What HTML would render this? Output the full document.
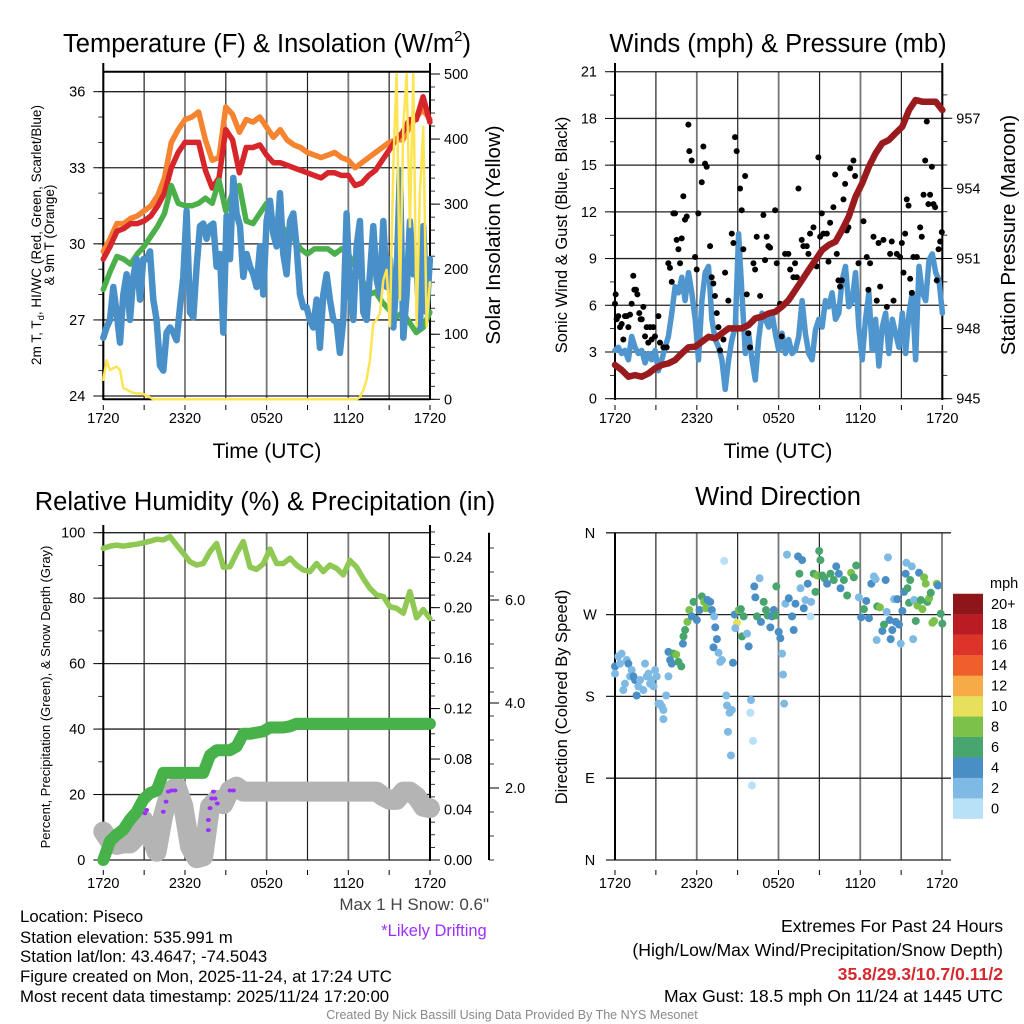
<!DOCTYPE html>
<html><head><meta charset="utf-8">
<style>
html,body{margin:0;padding:0;background:#fff;}
svg{display:block;font-family:"Liberation Sans",Arial,sans-serif;}
</style></head>
<body>
<svg id="fig" width="1024" height="1024" viewBox="0 0 1024 1024" xmlns="http://www.w3.org/2000/svg">
<rect width="1024" height="1024" fill="#fff"/>
<g id="p1"></g>
<g id="p2"></g>
<g id="p3"></g>
<g id="p4"></g>

<text x="267" y="52" font-size="25.5" text-anchor="middle">Temperature (F) &amp; Insolation (W/m<tspan font-size="15" dy="-11">2</tspan><tspan dy="11">)</tspan></text>
<text x="778" y="52" font-size="25.5" text-anchor="middle">Winds (mph) &amp; Pressure (mb)</text>
<text x="265" y="510" font-size="25.5" text-anchor="middle">Relative Humidity (%) &amp; Precipitation (in)</text>
<text x="778" y="505" font-size="25.5" text-anchor="middle">Wind Direction</text>

<text transform="translate(41,235) rotate(-90)" font-size="13.5" text-anchor="middle">2m T, T<tspan font-size="9.5" dy="3">d</tspan><tspan dy="-3">, HI/WC (Red, Green, Scarlet/Blue)</tspan></text>
<text transform="translate(54,235) rotate(-90)" font-size="13.5" text-anchor="middle">&amp; 9m T (Orange)</text>
<text transform="translate(500,235) rotate(-90)" font-size="20.5" text-anchor="middle">Solar Insolation (Yellow)</text>
<text x="267" y="458" font-size="21" text-anchor="middle">Time (UTC)</text>
<text transform="translate(567,235) rotate(-90)" font-size="16.5" text-anchor="middle">Sonic Wind &amp; Gust (Blue, Black)</text>
<text transform="translate(1015,235) rotate(-90)" font-size="20.5" text-anchor="middle">Station Pressure (Maroon)</text>
<text x="778" y="458" font-size="21" text-anchor="middle">Time (UTC)</text>
<text transform="translate(50,697) rotate(-90)" font-size="13" text-anchor="middle">Percent, Precipitation (Green), &amp; Snow Depth (Gray)</text>
<text transform="translate(567,697) rotate(-90)" font-size="16.5" text-anchor="middle">Direction (Colored By Speed)</text>

<text x="489" y="910" font-size="17" fill="#444" text-anchor="end">Max 1 H Snow: 0.6"</text>
<text x="434" y="936" font-size="16.5" fill="#9b30ff" text-anchor="middle">*Likely Drifting</text>
<g font-size="16.8">
<text x="20" y="922">Location: Piseco</text>
<text x="20" y="943">Station elevation: 535.991 m</text>
<text x="20" y="962">Station lat/lon: 43.4647; -74.5043</text>
<text x="20" y="982">Figure created on Mon, 2025-11-24, at 17:24 UTC</text>
<text x="20" y="1002">Most recent data timestamp: 2025/11/24 17:20:00</text>
</g>
<g font-size="17.6" text-anchor="end">
<text x="1003" y="932">Extremes For Past 24 Hours</text>
<text x="1003" y="956">(High/Low/Max Wind/Precipitation/Snow Depth)</text>
<text x="1003" y="980" fill="#d42a2f" font-weight="bold">35.8/29.3/10.7/0.11/2</text>
<text x="1003" y="1002">Max Gust: 18.5 mph On 11/24 at 1445 UTC</text>
</g>
<text x="512" y="1019" font-size="12.5" fill="#888" text-anchor="middle">Created By Nick Bassill Using Data Provided By The NYS Mesonet</text>
</svg>
<script>
// ---------- DATA ----------
const timeLabels = ["1720","2320","0520","1120","1720"];
// Panel 1 (49 pts, every 0.5 h)
const temp9m = [29.7,30.2,30.8,30.8,31.0,31.1,31.3,31.5,31.9,32.6,34.0,34.5,34.9,35.0,35.2,34.1,33.3,33.4,35.4,35.1,34.4,34.9,34.8,35.0,34.6,34.2,34.5,34.1,33.9,33.8,33.6,33.5,33.4,33.5,33.6,33.4,33.3,33.0,33.2,33.4,33.6,33.8,34.0,34.1,34.1,34.6,35.0,35.3,34.9];
const temp2m = [29.4,29.9,30.5,30.6,30.8,30.8,30.9,31.1,31.5,32.0,33.0,33.6,34.0,34.0,34.0,32.9,32.2,32.6,34.5,34.1,32.8,33.8,33.8,33.9,33.5,33.2,33.2,33.1,33.0,32.9,32.8,32.7,32.6,32.8,32.8,32.7,32.7,32.3,32.4,32.7,32.9,33.3,33.7,34.1,34.4,34.9,34.9,35.8,34.8];
const dewpt = [28.2,28.9,29.5,29.4,29.2,29.6,29.9,30.3,30.7,31.2,32.3,31.6,31.5,31.5,31.6,31.8,31.6,32.5,31.3,32.0,32.3,30.9,30.8,31.2,31.6,30.7,30.8,30.4,30.2,29.8,29.6,29.8,29.8,29.8,29.6,29.8,29.6,29.1,28.6,28.0,28.1,27.7,27.4,27.1,27.3,26.9,26.5,26.7,27.3];
// wind chill (99 pts, every 24/98 h)
const windChill = [26.3,26.7,27.0,28.3,27.3,26.1,28.0,28.8,27.0,28.7,29.4,27.8,29.4,29.4,29.7,27.8,27.0,25.2,25.0,26.5,26.7,26.5,26.2,27.5,28.7,31.3,27.3,27.1,29.1,30.7,30.8,30.2,30.7,30.8,29.1,29.6,26.5,31.1,29.4,32.6,31.2,30.7,28.7,29.6,29.1,28.8,28.3,29.9,28.0,30.9,31.7,30.4,29.9,32.0,29.6,28.8,30.9,31.2,29.9,28.0,27.5,27.5,27.0,26.7,27.8,25.9,28.0,28.8,27.8,27.0,26.9,25.7,27.0,31.2,28.0,27.0,29.9,30.9,27.3,27.0,28.8,30.7,28.6,28.0,30.9,28.3,29.4,26.7,28.7,32.9,26.3,28.0,30.9,28.8,29.1,26.7,30.7,27.3,29.4];
const solar = [30,60,45,48,50,45,17,15,12,10,9,9,8,5,3,
0,0,0,0,0,0,0,0,0,0,0,0,0,0,0,0,0,0,0,0,0,0,0,0,0,0,0,0,0,0,0,0,0,0,0,0,0,0,0,0,0,0,0,0,0,0,0,0,0,0,0,0,0,0,0,0,0,0,0,0,0,0,
3,14,30,60,117,122,132,183,199,112,358,500,153,419,500,265,500,112,317,419,112,180];
const tempTicks = [24,27,30,33,36];
const solarTicks = [0,100,200,300,400,500];
// Panel 2
const windSpeed = [3.1,3.3,2.9,3.1,2.5,4.0,3.3,2.9,3.1,2.3,2.9,2.5,3.1,1.8,2.5,3.3,4.0,5.5,7.2,6.8,7.8,6.3,8.1,6.8,5.1,2.5,6.3,8.1,8.5,5.1,3.8,3.3,2.5,0.6,2.5,3.8,4.6,10.6,6.8,2.9,4.2,2.5,1.2,3.8,5.5,5.1,4.6,5.5,4.2,3.1,4.2,2.9,3.8,2.9,3.1,4.0,6.3,4.2,2.9,2.5,4.4,5.1,4.6,6.3,5.9,6.8,5.1,5.5,7.6,8.5,5.9,6.3,8.1,4.6,2.5,5.1,6.8,3.1,5.1,2.1,4.6,5.5,2.9,5.1,4.2,3.3,5.5,2.9,5.5,6.8,2.5,8.5,6.8,6.3,8.9,9.3,8.1,7.6,5.5];
const pressure = [946.44,946.23,945.94,946.01,945.94,946.08,946.30,946.44,946.51,946.65,946.94,947.20,947.23,947.44,947.65,947.58,947.80,948.01,948.01,948.01,948.15,948.44,948.51,948.65,948.72,948.94,949.22,949.65,950.08,950.51,950.93,951.36,951.58,951.72,952.22,952.79,953.64,954.22,954.93,955.50,955.93,956.07,956.36,956.64,957.35,957.78,957.71,957.71,957.71,957.35];
const gustTime = [0.0,0.05,0.12,0.24,0.37,0.49,0.61,0.73,0.86,0.98,1.1,1.22,1.34,1.42,1.54,1.64,1.78,1.88,1.96,2.08,2.2,2.32,2.44,2.57,2.69,2.81,2.93,3.18,3.3,3.55,3.79,3.91,4.03,4.16,4.28,4.4,4.52,4.65,4.77,4.89,5.01,5.13,5.26,5.38,5.45,5.62,5.87,5.99,6.11,6.36,6.48,6.6,6.72,6.97,7.09,7.21,7.33,7.46,7.58,7.7,7.95,8.07,8.31,8.56,8.68,8.8,8.92,9.17,9.29,9.41,9.54,9.66,9.78,9.9,10.15,10.27,10.39,10.64,10.88,11.0,11.12,11.25,11.37,11.74,11.86,12.1,12.22,12.47,12.71,12.84,13.08,13.2,13.33,13.45,13.69,13.81,14.06,14.18,14.3,14.55,14.79,14.91,15.04,15.16,15.28,15.53,15.65,15.77,16.01,16.14,16.26,16.38,16.5,16.63,16.75,16.87,16.99,17.11,17.24,17.48,17.6,17.85,18.22,18.46,18.58,18.7,18.95,19.19,19.32,19.44,19.68,19.93,20.17,20.29,20.42,20.66,20.9,21.03,21.15,21.27,21.39,21.52,21.64,21.76,21.88,22.13,22.37,22.49,22.62,22.74,22.86,22.98,23.1,23.23,23.35,23.47,23.59,23.72,23.84,23.96];
const gustSpeed = [6.1,6.7,5.1,5.3,4.6,4.8,3.8,5.3,5.3,4.6,5.4,6.1,7.9,7.0,7.0,6.7,5.5,5.1,5.1,5.9,4.0,4.6,3.6,4.6,3.8,4.6,4.0,5.3,3.6,3.3,3.3,8.7,8.4,7.5,11.9,11.9,10.2,9.6,8.7,10.3,13.0,11.5,11.7,17.6,15.9,15.3,9.1,8.3,11.9,13.9,16.2,15.1,14.9,9.8,7.8,7.4,6.6,5.5,4.6,3.1,3.8,8.1,6.3,10.6,10.0,16.8,15.9,13.5,12.1,9.6,14.3,6.7,4.2,3.3,8.7,8.3,10.4,6.6,11.8,8.9,10.4,9.8,9.7,12.1,8.7,6.1,4.0,9.3,9.3,8.3,7.8,8.7,7.8,13.5,10.2,9.8,9.8,9.3,10.6,11.0,8.5,15.5,10.4,11.9,10.6,10.6,8.8,11.3,12.3,14.4,9.3,7.6,7.2,7.6,12.8,13.8,10.8,11.0,14.8,15.3,14.3,8.7,11.4,9.1,7.0,8.7,10.4,6.3,10.0,7.2,10.2,5.9,9.3,10.1,6.3,9.3,9.1,10.0,8.1,10.6,12.8,12.4,7.7,6.8,9.1,9.1,11.0,10.4,13.1,15.3,17.8,12.5,13.1,14.9,12.5,12.3,7.6,9.6,10.1,10.7];
const windTicks = [0,3,6,9,12,15,18,21];
const pressTicks = [945,948,951,954,957];
// Panel 3 (50 pts, every 24/49 h)
const relHum = [95.2,95.9,96.2,95.9,96.2,96.5,96.9,97.4,98.0,97.8,98.8,96.2,93.7,91.1,90.1,90.6,94.2,96.7,89.5,89.6,93.7,97.3,89.5,88.8,90.5,95.0,90.6,90.6,92.2,90.1,88.6,88.1,90.6,88.1,90.1,89.1,87.1,91.5,89.5,86.0,83.0,81.0,80.5,77.4,76.9,75.4,82.0,74.0,76.5,73.8];
const precip = [0,0.015,0.020,0.024,0.032,0.038,0.048,0.053,0.055,0.069,0.069,0.069,0.069,0.069,0.069,0.069,0.083,0.087,0.087,0.087,0.090,0.100,0.100,0.101,0.102,0.105,0.105,0.105,0.106,0.108,0.108,0.108,0.108,0.108,0.108,0.108,0.108,0.108,0.108,0.108,0.108,0.108,0.108,0.108,0.108,0.108,0.108,0.108,0.108,0.108];
const snowDepth = [0.79,0.51,0.42,0.46,0.46,0.65,1.11,0.74,0.23,1.25,1.9,2.04,1.5,0.37,0.05,0.1,1.48,1.67,1.55,1.94,2.04,1.9,1.9,1.9,1.9,1.9,1.9,1.9,1.9,1.9,1.9,1.9,1.9,1.9,1.9,1.9,1.9,1.9,1.9,1.9,1.9,1.9,1.76,1.67,1.67,1.9,1.9,1.76,1.48,1.44];
const driftTime = [3.06,3.19,4.41,4.61,4.78,5.02,5.27,7.72,7.72,7.84,7.97,8.09,8.21,8.38,9.31,9.56];
const driftDepth = [1.30,1.39,1.34,1.62,1.90,1.93,1.93,0.83,1.11,1.44,1.71,1.90,1.71,1.57,1.93,1.93];
const rhTicks = [0,20,40,60,80,100];
const precipTicks = [0,0.04,0.08,0.12,0.16,0.20,0.24];
const snowTicks = [2.0,4.0,6.0];
// Panel 4
const dirTime = [0,0,0.24,0.37,0.49,0.61,0.73,0.86,0.98,1.1,1.22,1.35,1.47,1.59,1.71,1.84,2.08,2.2,2.33,2.45,2.57,2.69,2.82,2.94,3.06,3.18,3.31,3.43,3.55,3.55,3.75,3.92,3.92,4.04,4.16,4.29,4.49,4.65,4.86,4.98,5.02,5.14,5.31,5.45,5.63,5.76,6.0,6.2,6.37,6.53,6.68,6.78,6.98,7.1,7.27,7.35,7.47,7.22,7.59,7.72,7.84,8.01,8.16,8.21,8.4,8.57,8.28,8.5,8.65,8.77,8.94,8.82,9.06,9.23,9.31,9.43,9.68,9.8,9.92,9.97,10.12,10.04,10.21,10.29,10.41,10.6,10.7,10.9,11.07,11.19,11.39,11.51,11.64,11.76,11.83,12.0,12.12,12.25,12.32,12.4,12.49,12.61,12.74,12.98,13.1,13.23,13.42,13.52,13.6,13.72,13.84,13.96,14.13,14.33,14.38,14.57,14.7,14.82,14.97,15.06,15.19,15.36,15.55,15.8,16.04,16.22,16.41,16.53,16.78,17.02,17.31,17.51,17.68,17.88,18.05,18.25,18.42,18.62,18.79,18.98,19.11,19.23,19.42,19.18,19.6,19.72,19.84,19.92,20.01,20.13,20.21,20.33,20.46,20.58,20.7,20.82,20.95,21.07,21.19,21.31,21.36,21.44,21.56,21.64,21.76,21.86,21.93,22.05,22.17,22.29,22.42,22.54,22.66,22.78,22.9,23.03,23.15,23.27,23.39,23.59,23.68,23.88,24.0];
const dirDeg = [213,205,224,216,227,187,194,220,216,202,209,202,198,181,191,198,187,216,202,205,194,198,191,209,202,172,172,169,165,155,181,202,229,220,216,227,226,218,213,238,246,253,262,275,268,284,264,275,290,284,277,286,284,275,268,256,243,234,228,218,220,329,181,170,162,165,141,115,217,270,261,255,275,276,246,268,249,235,162,176,131,82,301,289,268,310,262,284,275,269,256,268,275,269,301,251,244,227,204,172,282,336,288,268,253,282,334,315,299,330,277,286,304,268,284,315,295,313,340,330,313,310,304,315,308,323,315,299,308,291,316,311,324,289,267,276,285,266,304,312,309,279,278,242,252,259,308,273,333,264,243,253,287,262,287,259,238,274,295,315,327,299,283,308,323,243,286,263,280,316,286,276,311,304,284,288,294,261,263,304,302,271,260];
const dirSpeed = [5,3,3,3,3,3,3,3,5,3,3,5,5,5,3,3,3,3,3,3,3,3,3,3,3,3,3,3,3,3,3,3,5,5,5,7,9,7,7,5,7,7,9,9,5,7,5,5,7,9,9,5,5,5,3,5,5,5,3,3,3,1,3,3,3,3,3,3,5,5,11,3,9,7,7,7,3,5,1,3,1,1,5,5,7,3,5,7,7,7,5,5,5,7,7,5,5,3,3,3,3,3,5,5,5,5,5,7,3,5,5,3,5,1,3,7,7,9,7,7,7,7,5,7,7,5,5,5,7,7,9,7,7,3,5,7,5,5,5,3,3,7,9,3,5,7,5,3,3,5,5,5,3,5,5,5,3,5,5,5,3,7,7,7,3,3,3,7,9,5,7,9,9,9,7,9,7,9,9,9,5,7,7];
const dirLabels = ["N","E","S","W","N"];
const speedBins = ["0","2","4","6","8","10","12","14","16","18","20+"];
const binColors = ["#b7e1f7","#7fbae5","#4a8ec6","#48a56d","#7cc24a","#e6e05a","#f6aa48","#ef5f2b","#dc3428","#bb1c24","#8e1519"];

// ---------- SCALES ----------
const xT = t => 103.3 + t*13.61;
const yTemp = v => 396 - (v-24)*25.36;
const ySol = w => 399.3 - w*0.6506;
const xW = t => 615 + t*13.64;
const ySpd = m => 398.7 - m*15.57;
const yPr = p => 398.7 - (p-945)*23.37;
const yRH = r => 860 - r*3.273;
const yPcp = p => 860 - p*1261.7;
const ySnow = s => 860 - s*36;
const yDir = d => 860 - d*0.9089;

const NS = "http://www.w3.org/2000/svg";
function mk(tag, attrs, parent){
  const e = document.createElementNS(NS, tag);
  for (const k in attrs) e.setAttribute(k, attrs[k]);
  parent.appendChild(e);
  return e;
}
function pathOf(vals, xf, yf, n){
  let d = "";
  vals.forEach((v,i)=>{ const t = i*24/(n-1); d += (i?"L":"M")+xf(t).toFixed(1)+","+yf(v).toFixed(1); });
  return d;
}
function grid(g, x0, x1, y0, y1, ys, name){
  for (let i=0;i<=8;i++){
    const x = x0 + (x1-x0)*i/8;
    const l = mk("line",{x1:x,x2:x,y1:y0,y2:y1,stroke:(i%2?"#222":"#777"),"stroke-width":(i%2?1.2:1.8)},g);
    
    
  }
  ys.forEach(y=>{
    const l = mk("line",{x1:x0,x2:x1,y1:y,y2:y,stroke:"#222","stroke-width":1.3},g);
    
    
  });
}
function xLabels(g, x0, x1, y, name){
  timeLabels.forEach((s,i)=>{
    const x = x0 + (x1-x0)*i/4;
    const t = mk("text",{x:x,y:y,"font-size":14.5,"text-anchor":"middle"},g);
    t.textContent = s;
    
    
  });
  for (let i=0;i<=8;i++){
    const x = x0 + (x1-x0)*i/8;
    const l = mk("line",{x1:x,x2:x,y1:y-18,y2:y-13,stroke:"#000","stroke-width":1},g);
    
    
  }
}
function yAxis(g, x, ticks, yf, side, fmt, name, minorStep, lo, hi){
  ticks.forEach(v=>{
    const y = yf(v);
    const l = mk("line",{x1:x,x2:x+side*10,y1:y,y2:y,stroke:"#000","stroke-width":1},g);
    
    
    const t = mk("text",{x:x+side*(side<0?18:14),y:y+5,"font-size":14.5,"text-anchor":(side<0?"end":"start")},g);
    t.textContent = fmt(v);
    
    
  });
  for (let v=lo; v<=hi+1e-9; v+=minorStep){
    const y = yf(v);
    const l = mk("line",{x1:x,x2:x+side*5,y1:y,y2:y,stroke:"#000","stroke-width":0.8},g);
    
    
  }
}
function axisLine(g,x1,y1,x2,y2,name){
  const l = mk("line",{x1:x1,y1:y1,x2:x2,y2:y2,stroke:"#000","stroke-width":2},g);
  
  
}
function line(g, d, color, w, name){
  const p = mk("path",{d:d,fill:"none",stroke:color,"stroke-width":w,"stroke-linejoin":"round","stroke-linecap":"round"},g);
  
  
}

// ---------- PANEL 1 ----------
const g1 = document.getElementById("p1");
grid(g1, 103.3, 430, 71.7, 399.3, tempTicks.map(yTemp), "temp");
axisLine(g1,103.3,63,103.3,400,"temp-left-axis");
axisLine(g1,430,63,430,400,"solar-right-axis");
axisLine(g1,103.3,71.7,430,71.7,"temp-top-frame");
axisLine(g1,103.3,399.3,430,399.3,"temp-bottom-frame");
yAxis(g1,103.3,tempTicks,yTemp,-1,v=>String(v),"temp-y",1,24,36.6);
yAxis(g1,430,solarTicks,ySol,1,v=>String(v),"solar-y",20,0,500);
xLabels(g1,103.3,430,423,"temp");
line(g1, pathOf(temp9m,xT,yTemp,temp9m.length), "#f5832f", 5.5, "temp-9m-orange-line");
line(g1, pathOf(temp2m,xT,yTemp,temp2m.length), "#d6262b", 5.5, "temp-2m-red-line");
line(g1, pathOf(dewpt,xT,yTemp,dewpt.length), "#4bb04a", 5.5, "dewpoint-green-line");
line(g1, pathOf(windChill,xT,yTemp,windChill.length), "#4a90c8", 6.5, "windchill-blue-line");
line(g1, pathOf(solar,xT,ySol,solar.length), "#fde452", 2.5, "solar-yellow-line");

// ---------- PANEL 2 ----------
const g2 = document.getElementById("p2");
grid(g2, 615, 942.3, 71.7, 398.7, windTicks.map(ySpd), "wind");
axisLine(g2,615,63,615,400,"wind-left-axis");
axisLine(g2,942.3,63,942.3,400,"pressure-right-axis");
yAxis(g2,615,windTicks,ySpd,-1,v=>String(v),"wind-y",1.5,0,21);
yAxis(g2,942.3,pressTicks,yPr,1,v=>String(v),"pressure-y",1,945,958);
xLabels(g2,615,942.3,423,"wind");
line(g2, pathOf(windSpeed,xW,ySpd,windSpeed.length), "#4f96cf", 5.5, "wind-speed-blue-line");
gustTime.forEach((t,i)=>{
  const c = mk("circle",{cx:xW(t),cy:ySpd(gustSpeed[i]),r:3,fill:"#000"},g2);
  
  
});
line(g2, pathOf(pressure,xW,yPr,pressure.length), "#991b1e", 6.5, "pressure-maroon-line");

// ---------- PANEL 3 ----------
const g3 = document.getElementById("p3");
grid(g3, 103.3, 430, 532.7, 860, rhTicks.map(yRH), "rh");
axisLine(g3,103.3,525,103.3,861,"rh-left-axis");
axisLine(g3,430,525,430,861,"precip-right-axis");
axisLine(g3,489,532.7,489,860,"snow-right-axis");
yAxis(g3,103.3,rhTicks,yRH,-1,v=>String(v),"rh-y",10,0,100);
yAxis(g3,430,precipTicks,yPcp,1,v=>v.toFixed(2),"precip-y",0.01,0,0.26);
snowTicks.forEach((v,i)=>{
  const yy = [788,703,600][i];
  const l = mk("line",{x1:489,x2:499,y1:yy,y2:yy,stroke:"#000","stroke-width":1},g3);
  
  
  const t = mk("text",{x:505,y:yy+5,"font-size":14.5},g3);
  t.textContent = v.toFixed(1);
  
  
});
for (let k=0;k<14;k++){
  const yy = 860 - k*24;
  const l = mk("line",{x1:489,x2:494,y1:yy,y2:yy,stroke:"#000","stroke-width":0.8},g3);
  
  
}
xLabels(g3,103.3,430,888,"rh");
line(g3, pathOf(snowDepth,xT,ySnow,snowDepth.length), "#b4b4b4", 20, "snow-depth-gray-line");
line(g3, pathOf(precip,xT,yPcp,precip.length), "#47b249", 12, "precip-green-line");
line(g3, pathOf(relHum,xT,yRH,relHum.length), "#8fc853", 5.5, "rh-light-green-line");
driftTime.forEach((t,i)=>{
  const c = mk("ellipse",{cx:xT(t),cy:ySnow(driftDepth[i]),rx:2.5,ry:2,fill:"#9b30ff"},g3);
  
  
});

// ---------- PANEL 4 ----------
const g4 = document.getElementById("p4");
for (let i=0;i<=8;i++){
  const x = 615 + 327*i/8;
  const l = mk("line",{x1:x,x2:x,y1:532.7,y2:860,stroke:(i%2?"#222":"#777"),"stroke-width":(i%2?1.2:1.8)},g4);
  
  
}
dirLabels.forEach((s,i)=>{
  const yy = yDir(i*90);
  const l = mk("line",{x1:606,x2:951,y1:yy,y2:yy,stroke:"#222","stroke-width":1.3},g4);
  
  
  const t = mk("text",{x:590,y:yy+5,"font-size":14.5,"text-anchor":"middle"},g4);
  t.textContent = s;
  
  
});
axisLine(g4,615,532.7,615,860,"direction-left-axis");
xLabels(g4,615,942,888,"direction");
dirTime.forEach((t,i)=>{
  const bin = Math.min(10, Math.floor(dirSpeed[i]/2));
  const c = mk("circle",{cx:xW(t),cy:yDir(dirDeg[i]),r:4,fill:binColors[bin]},g4);
  
  
});
const mphT = mk("text",{x:990,y:588,"font-size":14.5},g4);
mphT.textContent = "mph";


speedBins.forEach((s,i)=>{
  const y0 = 818.7 - (i+1)*20.45;
  const r = mk("rect",{x:953,y:y0,width:30,height:20.6,fill:binColors[i]},g4);
  
  
  const t = mk("text",{x:991,y:y0+15,"font-size":14.5},g4);
  t.textContent = s;
  
  
});
</script>
</body></html>
